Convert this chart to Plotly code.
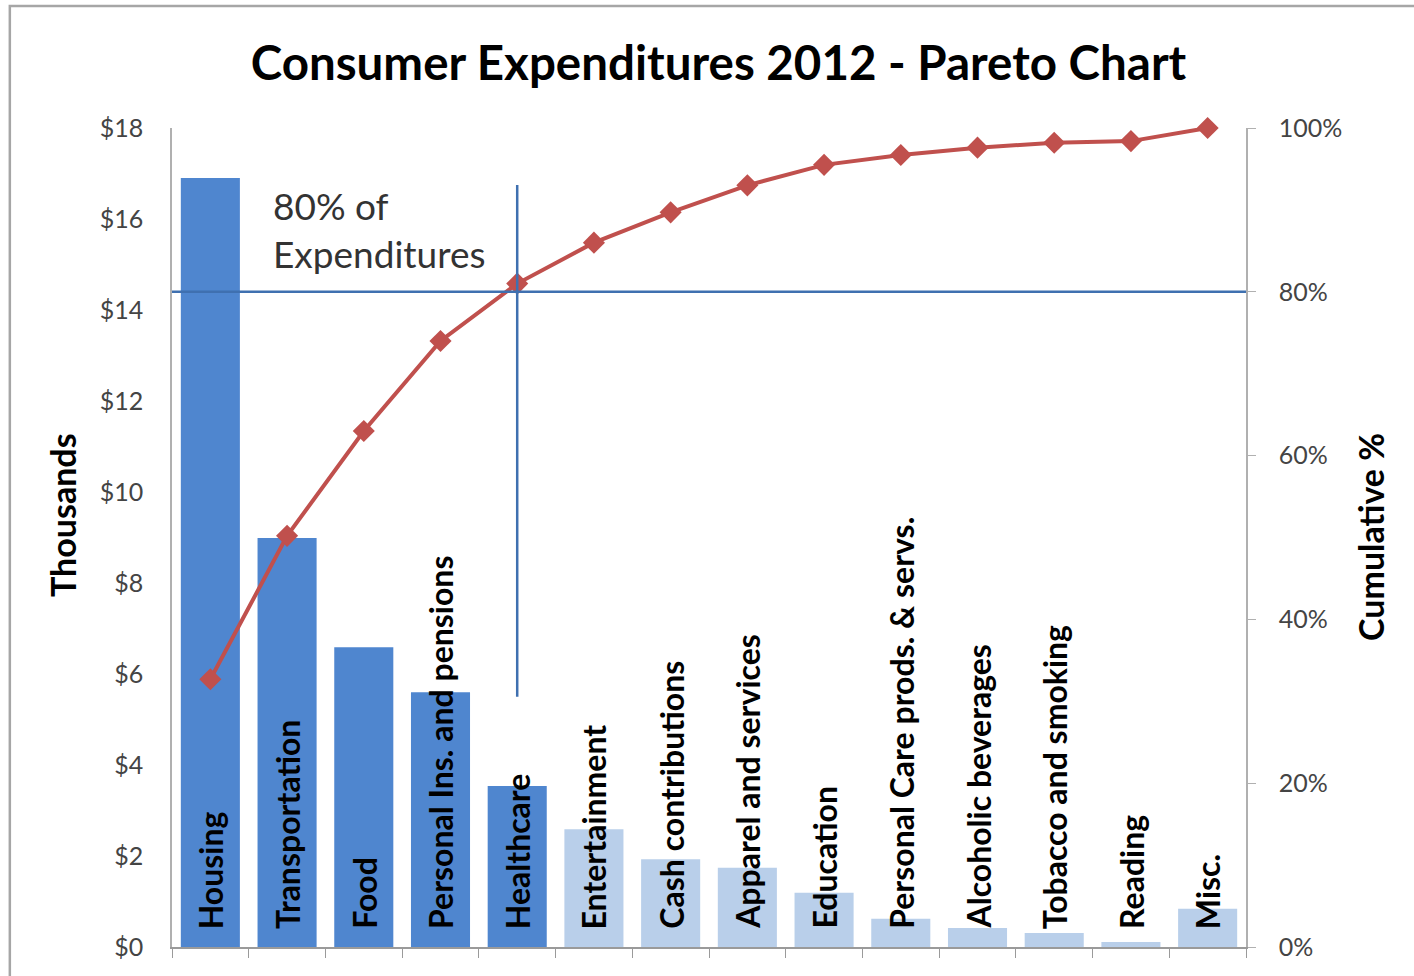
import plotly.graph_objects as go

categories = ["Housing", "Transportation", "Food", "Personal Ins. and pensions", "Healthcare",
              "Entertainment", "Cash contributions", "Apparel and services", "Education",
              "Personal Care prods. & servs.", "Alcoholic beverages", "Tobacco and smoking",
              "Reading", "Misc."]
spending_thousands = [16.9, 8.99, 6.59, 5.6, 3.54, 2.59, 1.93, 1.74, 1.19, 0.62, 0.42, 0.31, 0.11, 0.84]
cumulative_pct = [0.327, 0.502, 0.630, 0.740, 0.810, 0.860, 0.897, 0.930, 0.955, 0.967, 0.976, 0.982, 0.984, 1.0]
top_group = 5  # number of categories making up 80%
left_ticks = [0, 2, 4, 6, 8, 10, 12, 14, 16, 18]
left_ticktext = ["$" + str(v) for v in left_ticks]
right_ticks = [0, 0.2, 0.4, 0.6, 0.8, 1.0]
right_ticktext = ["0%", "20%", "40%", "60%", "80%", "100%"]

DARK = "#4F86CF"
LIGHT = "#B9CFEA"
RED = "#C0504D"
LINEBLUE = "#3F70B0"
FONT = "Lato"

bar_colors = [DARK if i < top_group else LIGHT for i in range(len(categories))]

fig = go.Figure()
fig.add_trace(go.Bar(x=categories, y=spending_thousands, marker=dict(color=bar_colors, line=dict(width=0)),
                     yaxis="y", showlegend=False))
fig.add_trace(go.Scatter(x=categories, y=cumulative_pct, yaxis="y2", mode="lines+markers",
                         line=dict(color=RED, width=4),
                         marker=dict(symbol="diamond", size=17, color=RED),
                         cliponaxis=False, showlegend=False))

# category labels written vertically inside the bars
for c in categories:
    fig.add_annotation(x=c, y=0, xref="x", yref="y", text="<b>" + c + "</b>", textangle=-90,
                       showarrow=False, xanchor="center", yanchor="bottom", yshift=16,
                       font=dict(family=FONT, size=32, color="#000000"))

fig.add_annotation(text="<b>Thousands</b>", xref="paper", yref="paper", x=(62 - 172) / 1074,
                   y=(947 - 515) / 819, textangle=-90, showarrow=False, xanchor="center", yanchor="middle",
                   font=dict(family=FONT, size=34, color="#000"))
fig.add_annotation(text="<b>Cumulative %</b>", xref="paper", yref="paper", x=(1370 - 172) / 1074,
                   y=(947 - 537) / 819, textangle=-90, showarrow=False, xanchor="center", yanchor="middle",
                   font=dict(family=FONT, size=34, color="#000"))
fig.add_annotation(text="80% of<br>Expenditures", xref="x", yref="y", x=0.795, y=15.77,
                   showarrow=False, xanchor="left", yanchor="middle", align="left",
                   font=dict(family=FONT, size=37, color="#333333"))

fig.update_layout(title=dict(text="<b>Consumer Expenditures 2012 - Pareto Chart</b>",
                             x=718.5 / 1414, xanchor="center",
                             y=1 - 63 / 976, yanchor="middle", font=dict(family=FONT, size=47.5, color="#000")))

# 80% horizontal line and vertical marker at the cut-off category
fig.add_shape(type="line", xref="paper", yref="y2", x0=0, x1=1, y0=0.8, y1=0.8,
              line=dict(color=LINEBLUE, width=2.5))
fig.add_shape(type="line", xref="x", yref="y", x0=categories[top_group - 1], x1=categories[top_group - 1],
              y0=5.5, y1=16.75, line=dict(color=LINEBLUE, width=2.5))

# outer chart border
fig.add_shape(type="rect", xref="paper", yref="paper", x0=-0.151, x1=1.17, y0=-0.1, y1=1.149,
              line=dict(color="#A6A6A6", width=2.5), fillcolor="rgba(0,0,0,0)", layer="below")

fig.update_layout(
    width=1414, height=976,
    margin=dict(l=172, r=168, t=128, b=29),
    paper_bgcolor="white", plot_bgcolor="white",
    bargap=0.23,
    font=dict(family=FONT),
    xaxis=dict(range=[-0.5, len(categories) - 0.5], showticklabels=False, ticks="outside",
               tickson="boundaries", ticklen=9,
               tickcolor="#9a9a9a", showline=True, linecolor="#9a9a9a", linewidth=1.5,
               showgrid=False, zeroline=False),
    yaxis=dict(range=[0, 18], tickvals=left_ticks, ticktext=left_ticktext, showgrid=False, zeroline=False,
               showline=True, linecolor="#b0b0b0", linewidth=1.5, ticks="", ticklabelstandoff=22,
               tickfont=dict(family=FONT, size=25, color="#444")),
    yaxis2=dict(range=[0, 1], overlaying="y", side="right", tickvals=right_ticks, ticktext=right_ticktext,
                showgrid=False, zeroline=False, showline=True, linecolor="#b0b0b0", linewidth=1.5,
                ticks="outside", ticklen=8, tickcolor="#b0b0b0", ticklabelstandoff=18,
                tickfont=dict(family=FONT, size=25, color="#444")),
)

fig.write_html("out.html")
